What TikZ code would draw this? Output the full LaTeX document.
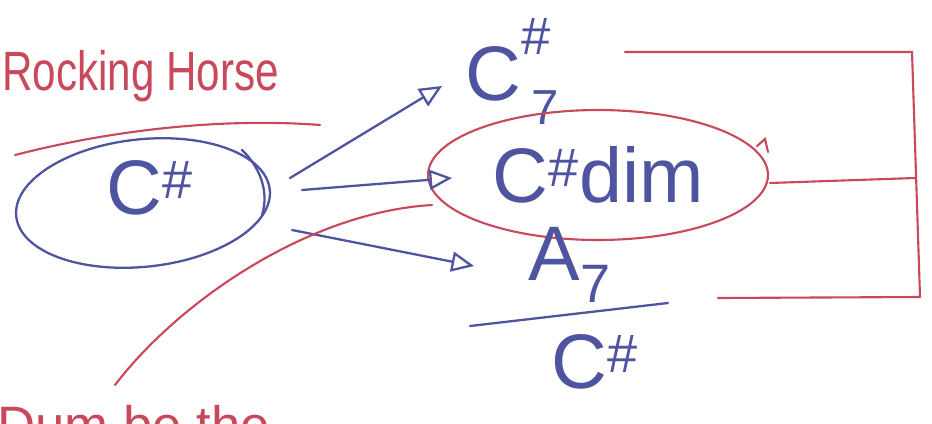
\documentclass[tikz,border=0pt]{standalone}
\usepackage{fontspec}
\setmainfont{Liberation Sans}
\usetikzlibrary{arrows.meta,shapes.geometric}
\definecolor{inkblue}{RGB}{78,84,160}
\definecolor{inkred}{RGB}{200,72,92}
\begin{document}
\begin{tikzpicture}[x=0.02cm,y=-0.02cm,
  blueink/.style={draw=inkblue,line width=1.3pt,line cap=round},
  redink/.style={draw=inkred,line width=1.2pt,line cap=round},
  chord/.style={text=inkblue,font=\fontsize{44}{48}\selectfont,inner sep=0pt},
  redtext/.style={text=inkred,font=\fontsize{30}{34}\selectfont,inner sep=0pt},
  arr/.style={blueink,-{Triangle[open,length=4.5mm,width=4mm,line width=1.3pt]}},
]
\useasboundingbox (0,0) rectangle (932,423);
\clip (0,0) rectangle (932,423);
\fill[white] (0,0) rectangle (932,423);

% title
\node[redtext,anchor=base west] (title) at (2,90) {\scalebox{0.8}[1.05]{Rocking Horse}};
\coordinate (u1) at (15,155);
\coordinate (u2) at (320,125);
\draw[redink] (u1) .. controls (120,128) and (230,118) .. (u2);

% source ellipse
\node[ellipse,blueink,minimum width=5.1cm,minimum height=2.55cm,rotate=6] (src) at (143,203) {};
\node[chord] (srct) at (150,188) {C\textsuperscript{\#}};
\coordinate (b1) at (242,150);
\coordinate (b2) at (262,215);
\draw[blueink] (b1) .. controls (258,165) and (270,190) .. (b2);

% targets
\node[chord,anchor=base west] (c7) at (465,100) {C\rlap{\raisebox{26pt}{\fontsize{30}{32}\selectfont\#}}\raisebox{-14pt}{\hspace{6pt}\fontsize{28}{30}\selectfont 7}};
\node[ellipse,redink,minimum width=6.8cm,minimum height=2.6cm,chord,text=inkblue] (dim) at (598,175) {C\textsuperscript{\#}dim};
\coordinate (h1) at (757,146);
\coordinate (h2) at (768,152);
\draw[redink] (h1) -- (765,139) -- (h2);
\node[chord] (a7) at (570,265) {A\textsubscript{7}};
\coordinate (fl) at (470,326);
\coordinate (fr) at (668,303);
\draw[blueink] (fl) -- (fr);
\node[chord] (bass) at (595,362) {C\textsuperscript{\#}};

% arrows
\coordinate (s1) at (290,178);
\coordinate (s2) at (302,190);
\coordinate (s3) at (292,230);
\coordinate (t1) at (442,86);
\coordinate (t2) at (452,178);
\coordinate (t3) at (474,266);
\draw[arr] (s1) -- (t1);
\draw[arr] (s2) -- (t2);
\draw[arr] (s3) -- (t3);

% red curve from bottom
\coordinate (r0) at (115,385);
\coordinate (r1) at (432,205);
\draw[redink] (r0) .. controls (180,300) and (310,212) .. (r1);

% red bracket on the right
\coordinate (k1) at (625,52);
\coordinate (k2) at (912,52);
\coordinate (k3) at (920,297);
\coordinate (m1) at (770,183);
\coordinate (m2) at (915,178);
\coordinate (n1) at (718,298);
\draw[redink] (k1) -- (k2) -- (k3);
\draw[redink] (m1) -- (m2);
\draw[redink] (n1) -- (k3);

% bottom text, cut off by the edge as in the photo
\node[redtext,anchor=base west] (bottom) at (-3,443) {Dum be the};
\end{tikzpicture}
\end{document}
